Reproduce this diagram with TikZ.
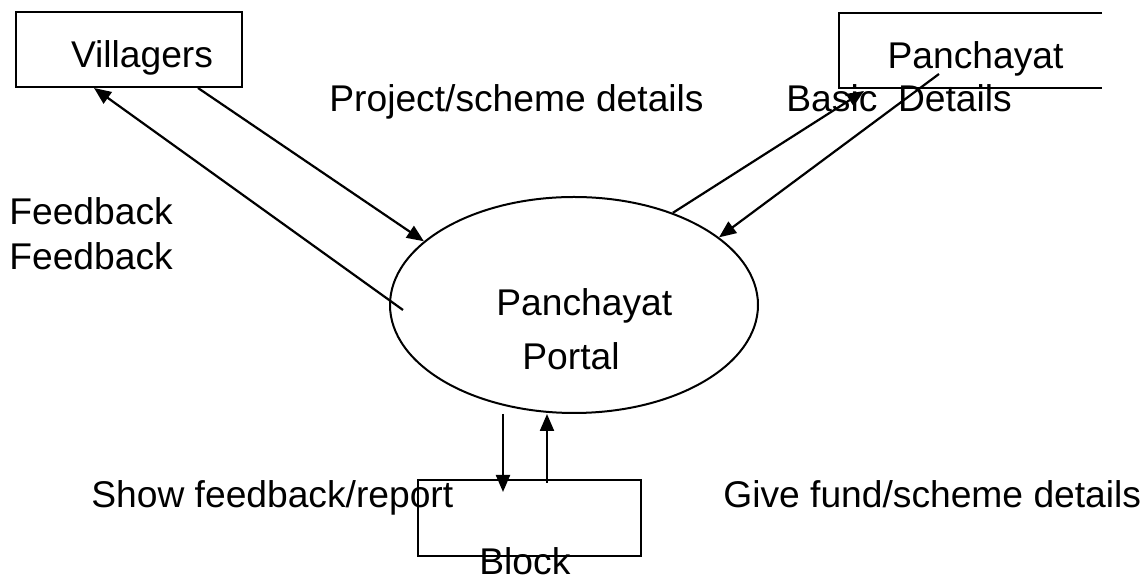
\documentclass[tikz,border=0pt]{standalone}
\usepackage{fontspec}
\setmainfont{Liberation Sans}
\usetikzlibrary{shapes.geometric,arrows.meta,positioning,calc}
\def \px {0.5pt}

\tikzset{
  box/.style={rectangle,draw,line width=1pt,inner sep=0pt,text height=20pt,text depth=1.5pt},
  txt/.style={inner sep=0pt,anchor=base west},
  flow/.style={->,line width=1.1pt},
}

\begin{document}
\begin{tikzpicture}[x=\px,y=-\px,>={Triangle[length=8.5pt,width=7pt]},
    font=\fontsize{18.6}{22.5}\selectfont]
    \useasboundingbox (0,0) rectangle (1147,581);
    % entities
    \node[box,minimum width=226*\px,minimum height=75*\px] (vil) at (129,49.5) {\hspace*{13pt}Villagers};
    \node[box,draw=none,minimum width=261*\px,minimum height=73*\px] (panch) at (970.5,50.5) {\hspace*{5pt}Panchayat};
    \draw[line width=1pt] (panch.north east) -- (panch.north west) -- (panch.south west) -- (panch.south east);
    \node[box,minimum width=223*\px,minimum height=76*\px] (block) at (529.5,518) {};
    \node[ellipse,draw,line width=1pt,inner sep=0pt,minimum width=368*\px,minimum height=216*\px] (portal) at (574,305) {};
    % texts
    \node[txt] (portal1) at (496,316) {Panchayat};
    \node[txt] (portal2) at (522,370) {Portal};
    \node[txt] (blocklbl) at (479,575) {Block};
    \node[txt] (projlbl) at (329,112) {Project/scheme details};
    \node[txt] (basiclbl) at (786,112) {Basic~ Details};
    \node[txt] (fb1) at (9,225) {Feedback};
    \node[txt] (fb2) at (9,270) {Feedback};
    \node[txt] (showlbl) at (91,508) {Show feedback/report};
    \node[txt] (givelbl) at (723,508) {Give fund/scheme details};
    % flows
    \draw[flow] ($(vil.south east)+(-45,0)$) -- (portal.157);
    \draw[flow] ($(portal.west)+(14,5)$) -- ($(vil.south west)+(79,0)$);
    \draw[flow] (portal.43) -- ($(panch.south west)+(25,3)$);
    \draw[flow] ($(panch.south west)+(100,-14)$) -- (portal.25);
    \draw[flow] ($(portal.south)+(-71,0)$) -- ($(block.north west)+(86,13)$);
    \draw[flow] ($(block.north west)+(130,4)$) -- ($(portal.south)+(-27,0)$);
\end{tikzpicture}
\end{document}
